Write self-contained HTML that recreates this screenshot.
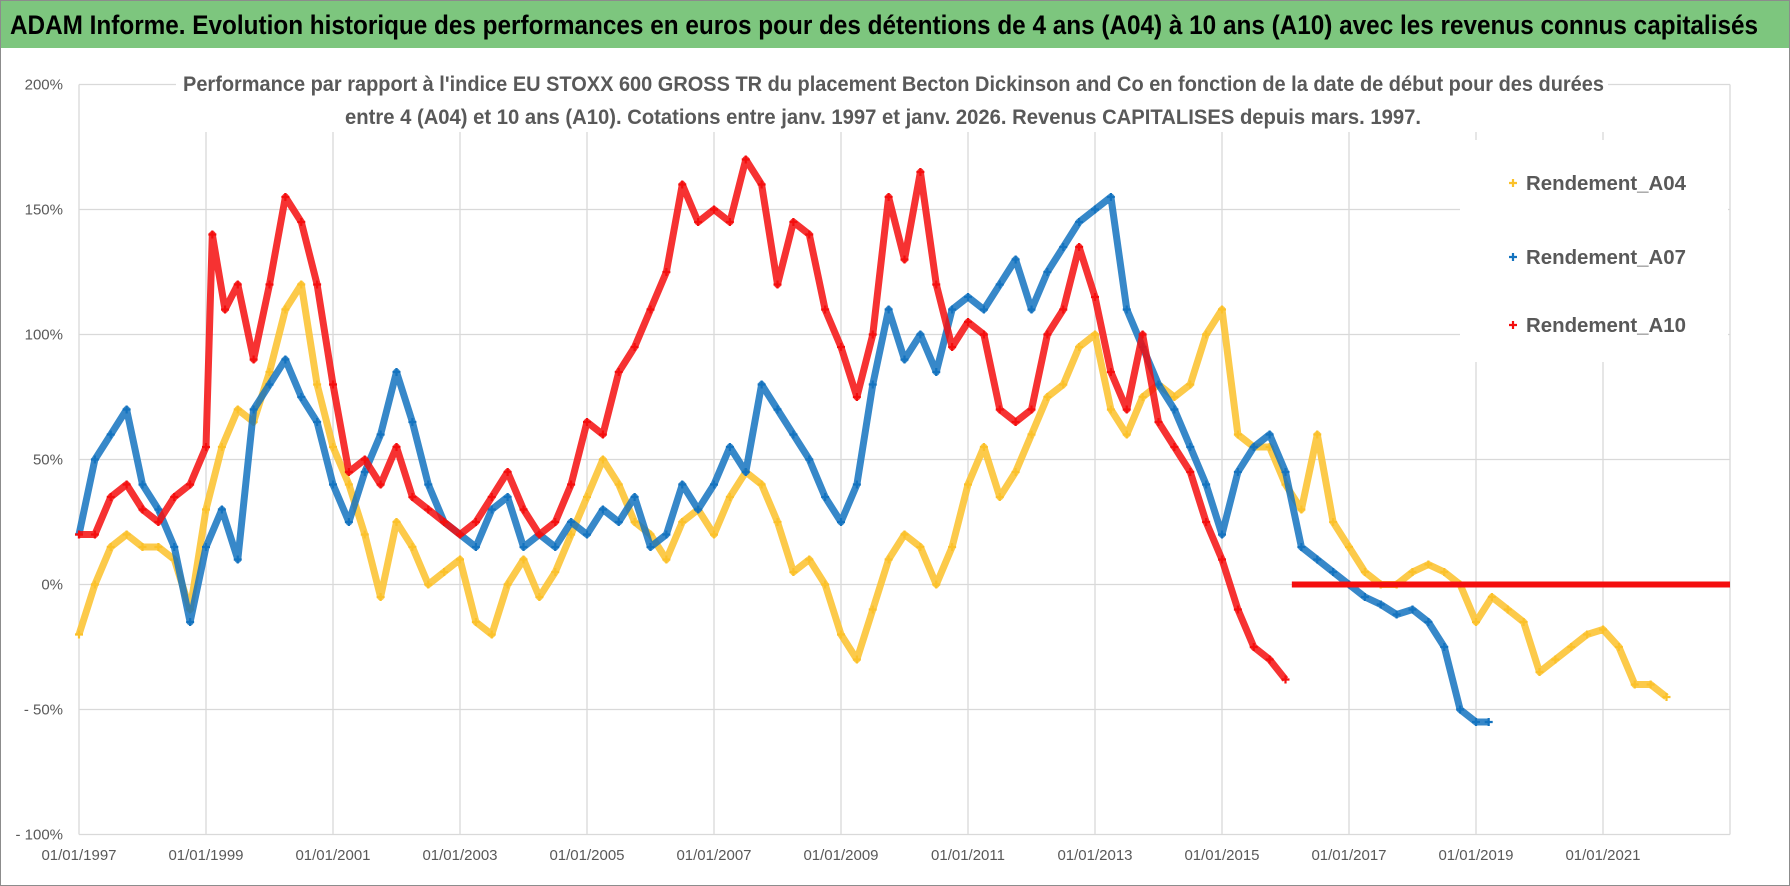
<!DOCTYPE html>
<html><head><meta charset="utf-8"><style>
html,body{margin:0;padding:0;background:#fff;}
svg{display:block;font-family:"Liberation Sans",sans-serif;}
</style></head><body>
<svg id="chart" width="1790" height="886" viewBox="0 0 1790 886" xmlns="http://www.w3.org/2000/svg">
<rect x="0.5" y="0.5" width="1789" height="885" fill="#fff" stroke="#8c8c8c"/>
<rect x="1" y="1" width="1788" height="47" fill="#7dc67e"/>
<text x="10" y="34" font-size="27" font-weight="bold" fill="#000" textLength="1748" lengthAdjust="spacingAndGlyphs">ADAM Informe. Evolution historique des performances en euros pour des détentions de 4 ans (A04) à 10 ans (A10) avec les revenus connus capitalisés</text>
<g id="grid"></g>
<g id="axes"></g>
<rect x="176" y="62" width="1432" height="70" fill="#fff"/>
<text x="183" y="91" font-size="21" font-weight="bold" fill="#595959" textLength="1421" lengthAdjust="spacingAndGlyphs">Performance par rapport à l'indice EU STOXX 600 GROSS TR  du placement Becton Dickinson and Co en fonction de la date de début pour des durées</text>
<text x="345" y="124" font-size="21" font-weight="bold" fill="#595959" textLength="1076" lengthAdjust="spacingAndGlyphs">entre 4 (A04) et 10 ans (A10). Cotations entre janv. 1997 et janv. 2026. Revenus CAPITALISES depuis mars. 1997.</text>
<g id="series"></g>
<g id="legend"></g>
</svg>
<script>
const yTicks = [200,150,100,50,0,-50,-100];
const yTickLabels = ["200%","150%","100%","50%","0%","- 50%","- 100%"];
const xTickYears = [1997,1999,2001,2003,2005,2007,2009,2011,2013,2015,2017,2019,2021];
const xTickLabels = ["01/01/1997","01/01/1999","01/01/2001","01/01/2003","01/01/2005","01/01/2007","01/01/2009","01/01/2011","01/01/2013","01/01/2015","01/01/2017","01/01/2019","01/01/2021"];
const datesA04 = [1997,1997.25,1997.5,1997.75,1998,1998.25,1998.5,1998.75,1999,1999.25,1999.5,1999.75,2000,2000.25,2000.5,2000.75,2001,2001.25,2001.5,2001.75,2002,2002.25,2002.5,2002.75,2003,2003.25,2003.5,2003.75,2004,2004.25,2004.5,2004.75,2005,2005.25,2005.5,2005.75,2006,2006.25,2006.5,2006.75,2007,2007.25,2007.5,2007.75,2008,2008.25,2008.5,2008.75,2009,2009.25,2009.5,2009.75,2010,2010.25,2010.5,2010.75,2011,2011.25,2011.5,2011.75,2012,2012.25,2012.5,2012.75,2013,2013.25,2013.5,2013.75,2014,2014.25,2014.5,2014.75,2015,2015.25,2015.5,2015.75,2016,2016.25,2016.5,2016.75,2017,2017.25,2017.5,2017.75,2018,2018.25,2018.5,2018.75,2019,2019.25,2019.5,2019.75,2020,2020.25,2020.5,2020.75,2021,2021.25,2021.5,2021.75,2022];
const valuesA04 = [-20,0,15,20,15,15,10,-10,30,55,70,65,85,110,120,80,55,40,20,-5,25,15,0,5,10,-15,-20,0,10,-5,5,20,35,50,40,25,20,10,25,30,20,35,45,40,25,5,10,0,-20,-30,-10,10,20,15,0,15,40,55,35,45,60,75,80,95,100,70,60,75,80,75,80,100,110,60,55,55,40,30,60,25,15,5,0,0,5,8,5,0,-15,-5,-10,-15,-35,-30,-25,-20,-18,-25,-40,-40,-45];
const datesA07 = [1997,1997.25,1997.5,1997.75,1998,1998.25,1998.5,1998.75,1999,1999.25,1999.5,1999.75,2000,2000.25,2000.5,2000.75,2001,2001.25,2001.5,2001.75,2002,2002.25,2002.5,2002.75,2003,2003.25,2003.5,2003.75,2004,2004.25,2004.5,2004.75,2005,2005.25,2005.5,2005.75,2006,2006.25,2006.5,2006.75,2007,2007.25,2007.5,2007.75,2008,2008.25,2008.5,2008.75,2009,2009.25,2009.5,2009.75,2010,2010.25,2010.5,2010.75,2011,2011.25,2011.5,2011.75,2012,2012.25,2012.5,2012.75,2013,2013.25,2013.5,2013.75,2014,2014.25,2014.5,2014.75,2015,2015.25,2015.5,2015.75,2016,2016.25,2016.5,2016.75,2017,2017.25,2017.5,2017.75,2018,2018.25,2018.5,2018.75,2019,2019.2];
const valuesA07 = [20,50,60,70,40,30,15,-15,15,30,10,70,80,90,75,65,40,25,45,60,85,65,40,25,20,15,30,35,15,20,15,25,20,30,25,35,15,20,40,30,40,55,45,80,70,60,50,35,25,40,80,110,90,100,85,110,115,110,120,130,110,125,135,145,150,155,110,95,80,70,55,40,20,45,55,60,45,15,10,5,0,-5,-8,-12,-10,-15,-25,-50,-55,-55];
const datesA10 = [1997,1997.25,1997.5,1997.75,1998,1998.25,1998.5,1998.75,1999,1999.1,1999.3,1999.5,1999.75,2000,2000.25,2000.5,2000.75,2001,2001.25,2001.5,2001.75,2002,2002.25,2002.5,2002.75,2003,2003.25,2003.5,2003.75,2004,2004.25,2004.5,2004.75,2005,2005.25,2005.5,2005.75,2006,2006.25,2006.5,2006.75,2007,2007.25,2007.5,2007.75,2008,2008.25,2008.5,2008.75,2009,2009.25,2009.5,2009.75,2010,2010.25,2010.5,2010.75,2011,2011.25,2011.5,2011.75,2012,2012.25,2012.5,2012.75,2013,2013.25,2013.5,2013.75,2014,2014.25,2014.5,2014.75,2015,2015.25,2015.5,2015.75,2016];
const valuesA10 = [20,20,35,40,30,25,35,40,55,140,110,120,90,120,155,145,120,80,45,50,40,55,35,30,25,20,25,35,45,30,20,25,40,65,60,85,95,110,125,160,145,150,145,170,160,120,145,140,110,95,75,100,155,130,165,120,95,105,100,70,65,70,100,110,135,115,85,70,100,65,55,45,25,10,-10,-25,-30,-38];
const zeroLineStart = 2016.1, zeroLineEnd = 2023.0, zeroLineValue = 0;

const NS="http://www.w3.org/2000/svg";
const X0=79, X1=1730, Y200=84.5, Y0=584.5;
function xs(yr){return X0+(yr-1997)*(X1-X0)/26;}
function ys(v){return Y0-(v)*(Y0-Y200)/200;}
function mk(tag,attrs,parent){const e=document.createElementNS(NS,tag);for(const k in attrs)e.setAttribute(k,attrs[k]);parent.appendChild(e);return e;}
const grid=document.getElementById('grid'), axes=document.getElementById('axes');
yTicks.forEach((v,i)=>{
  const ln=mk('line',{x1:X0,x2:X1,y1:ys(v),y2:ys(v),stroke:'#d9d9d9','stroke-width':1.3},grid);
  
  
  const t=mk('text',{x:63,y:ys(v)+5,'text-anchor':'end','font-size':15,fill:'#595959'},axes);
  t.textContent=yTickLabels[i];
  
  
});
xTickYears.forEach((yr,i)=>{
  const ln=mk('line',{x1:xs(yr),x2:xs(yr),y1:Y200,y2:ys(-100),stroke:'#d9d9d9','stroke-width':1.3},grid);
  
  
  const t=mk('text',{x:xs(yr),y:860,'text-anchor':'middle','font-size':15,fill:'#595959'},axes);
  t.textContent=xTickLabels[i];
  
  
});
const rl=mk('line',{x1:X1,x2:X1,y1:Y200,y2:ys(-100),stroke:'#d9d9d9','stroke-width':1.3},grid);


const lb=mk('rect',{x:1460,y:140,width:268,height:222,fill:'#fff'},grid);



const series=document.getElementById('series');
function plus(g,x,y,c){
  mk('path',{d:`M${x-4} ${y}h8M${x} ${y-4}v8`,stroke:c,'stroke-width':2.2,fill:'none'},g);
}
function drawSeries(name,dates,vals,color){
  const g=mk('g',{},series);
  
  
  let d='';
  dates.forEach((t,i)=>{d+=(i?'L':'M')+xs(t).toFixed(1)+' '+ys(vals[i]).toFixed(1);});
  mk('path',{d:d,stroke:color,'stroke-width':7,fill:'none','stroke-linejoin':'round','stroke-opacity':0.85},g);
  dates.forEach((t,i)=>{
    plus(g,xs(t),ys(vals[i]),color);
  });
}
drawSeries('series-a04',datesA04,valuesA04,'#fbc12a');
drawSeries('series-a07',datesA07,valuesA07,'#1473bf');
drawSeries('series-a10',datesA10,valuesA10,'#f40e0e');
const zl=mk('line',{x1:xs(zeroLineStart),x2:xs(zeroLineEnd),y1:ys(zeroLineValue),y2:ys(zeroLineValue),stroke:'#f40e0e','stroke-width':6},series);



const legend=document.getElementById('legend');
const legNames=['Rendement_A04','Rendement_A07','Rendement_A10'];
const legColors=['#fbc12a','#1473bf','#f40e0e'];
const legY=[183,257,325];
legNames.forEach((n,i)=>{
  const g=mk('g',{},legend);
  
  
  plus(g,1513,legY[i],legColors[i]);
  const t=mk('text',{x:1526,y:legY[i]+7,'font-size':20,'font-weight':'bold',fill:'#595959',textLength:160,lengthAdjust:'spacingAndGlyphs'},g);
  t.textContent=n;
});
</script>
</body></html>
